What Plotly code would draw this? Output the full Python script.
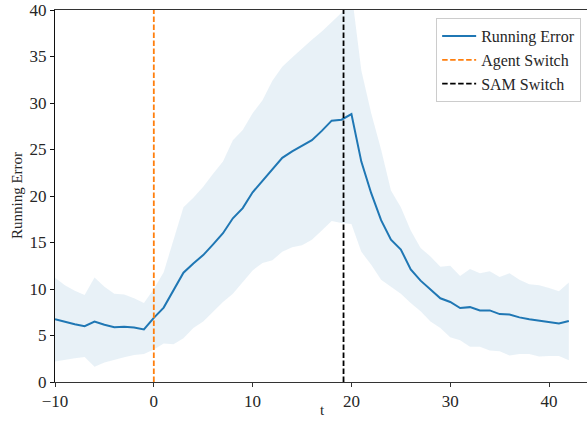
import plotly.graph_objects as go

t = list(range(-10, 43))
mean_err = [6.75, 6.45, 6.2, 6.0, 6.5, 6.15, 5.9, 5.95, 5.85, 5.65,
            6.9, 8.0, 9.9, 11.75, 12.75, 13.65, 14.8, 16.0, 17.6, 18.7,
            20.4, 21.6, 22.9, 24.1, 24.8, 25.4, 26.0, 27.0, 28.1, 28.2,
            28.8, 23.7, 20.3, 17.4, 15.3, 14.25, 12.1, 10.9, 9.95, 9.0,
            8.6, 7.95, 8.05, 7.7, 7.7, 7.3, 7.25, 6.95, 6.75, 6.6,
            6.5, 6.3, 6.55]
upper = [11.2, 10.4, 9.8, 9.35, 11.25, 10.25, 9.5, 9.4, 9.0, 8.5,
         10.0, 11.8, 15.3, 18.8, 19.8, 21.0, 22.4, 23.7, 26.0, 27.1,
         28.9, 30.3, 32.4, 33.9, 34.9, 35.9, 36.8, 37.7, 38.7, 39.7,
         42.0, 33.5, 28.9, 25.0, 20.6, 18.8, 16.3, 14.4, 13.5, 12.4,
         12.5, 11.4, 12.15, 11.7, 11.9, 11.3, 11.7, 11.0, 10.5, 10.4,
         10.1, 9.75, 10.7]
lower = [2.2, 2.4, 2.55, 2.7, 1.65, 2.1, 2.4, 2.65, 2.9, 3.0,
         3.5, 4.15, 4.05, 4.7, 5.8, 6.5, 7.55, 8.6, 9.5, 10.8,
         12.0, 12.8, 13.1, 14.0, 14.5, 14.7, 15.3, 16.3, 17.3, 17.1,
         17.0, 14.0, 12.6, 11.0, 10.2, 9.5, 8.5, 7.6, 6.5, 5.8,
         4.8, 4.5, 3.8, 3.8, 3.4, 3.3, 2.85, 3.0, 3.0, 2.75,
         2.8, 2.8, 2.35]
agent_switch_t = 0
sam_switch_t = 19.2
x_range = [-10, 43.84]
y_range = [0, 40]
y_ticks = [0, 5, 10, 15, 20, 25, 30, 35, 40]
x_ticks = [-10, 0, 10, 20, 30, 40]
x_title = "t"
y_title = "Running Error"

BLUE = "#1f77b4"
ORANGE = "#ff7f0e"
FONT = "Liberation Serif"
TEXT = "#262626"

fig = go.Figure()
fig.add_trace(go.Scatter(x=t, y=lower, mode="lines", line=dict(width=0),
                         showlegend=False, hoverinfo="skip"))
fig.add_trace(go.Scatter(x=t, y=upper, mode="lines", line=dict(width=0),
                         fill="tonexty", fillcolor="rgba(31,119,180,0.1)",
                         showlegend=False, hoverinfo="skip"))
fig.add_trace(go.Scatter(x=t, y=mean_err, mode="lines", name="Running Error",
                         line=dict(color=BLUE, width=2)))
fig.add_trace(go.Scatter(x=[agent_switch_t, agent_switch_t], y=y_range, mode="lines",
                         name="Agent Switch",
                         line=dict(color=ORANGE, width=1.8, dash="5.5px,2.5px")))
fig.add_trace(go.Scatter(x=[sam_switch_t, sam_switch_t], y=y_range, mode="lines",
                         name="SAM Switch",
                         line=dict(color="#000000", width=1.8, dash="5.5px,2.5px")))

fig.update_layout(
    width=587, height=426,
    margin=dict(l=55, r=0, t=10, b=44),
    plot_bgcolor="white", paper_bgcolor="white",
    font=dict(family=FONT, size=17, color=TEXT),
    legend=dict(x=0.989, y=0.978, xanchor="right", yanchor="top",
                traceorder="normal",
                bgcolor="rgba(255,255,255,0.85)", bordercolor="#cccccc", borderwidth=1,
                font=dict(family=FONT, size=16, color=TEXT),
                tracegroupgap=0, itemwidth=34),
    annotations=[
        dict(text=x_title, xref="paper", yref="paper", x=(322 - 55) / 532, y=0,
             xanchor="center", yanchor="middle", yshift=-28, showarrow=False,
             font=dict(family=FONT, size=15, color=TEXT)),
        dict(text=y_title, xref="paper", yref="paper", x=0, y=0.5,
             xanchor="center", yanchor="middle", xshift=-38, textangle=-90,
             showarrow=False, font=dict(family=FONT, size=15, color=TEXT)),
    ],
)
fig.update_xaxes(range=x_range, tickvals=x_ticks, showgrid=False, zeroline=False,
                 automargin=False,
                 showline=True, linecolor="#333333", linewidth=1, mirror=True,
                 ticks="outside", ticklen=4, tickcolor="#333333")
fig.update_yaxes(range=y_range, tickvals=y_ticks, showgrid=False, zeroline=False,
                 automargin=False,
                 showline=True, linecolor="#111111", linewidth=1,
                 ticks="outside", ticklen=4, tickcolor="#111111")

fig.write_html("out.html", config={"displayModeBar": False},
               post_script="document.body.style.margin='0';")
